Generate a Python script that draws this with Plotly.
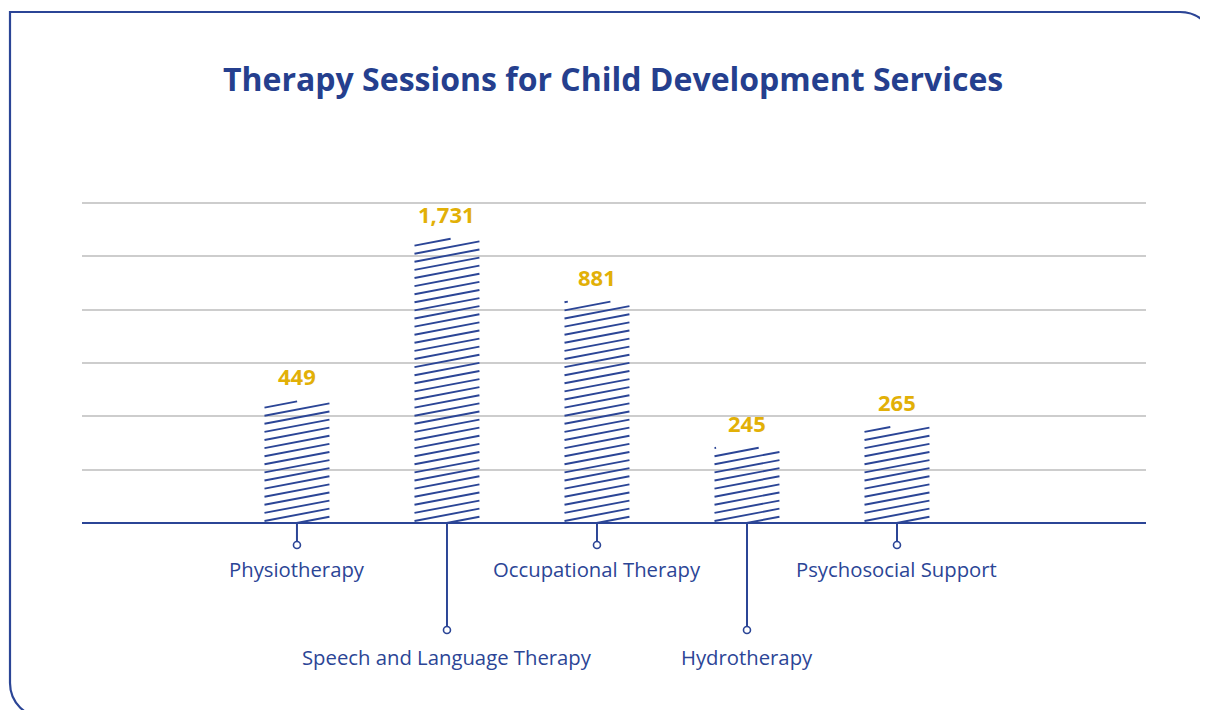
import plotly.graph_objects as go

# ---------------- data ----------------
categories = ["Physiotherapy", "Speech and Language Therapy", "Occupational Therapy",
              "Hydrotherapy", "Psychosocial Support"]
sessions = [449, 1731, 881, 245, 265]            # labels shown on bars
bar_heights = [2.28, 5.33, 4.15, 1.41, 1.80]     # plotted heights (grid units)
label_row = [0, 1, 0, 1, 0]                      # 0 = short leader, 1 = long leader
grid_ticks = [1, 2, 3, 4, 5, 6]

# ---------------- style ----------------
BLUE = "#2b4596"
TITLE_BLUE = "#253f8e"
GOLD = "#e2b007"
GRID = "#cdcdcd"
W, H = 1208, 710
OFF = 8                      # page body margin
L, R, T, B = 82 - OFF, W - (1146 - OFF), 198 - OFF, H - (704 - OFF)
PLOT_W = W - L - R
PLOT_H = H - T - B
XMIN, XMAX = -1.433, 5.66
PX_X = PLOT_W / (XMAX - XMIN)
PX_Y = 53.333
BASE_PX = 523 - OFF
YMAX = (BASE_PX - T) / PX_Y
YMIN = -((H - B) - BASE_PX) / PX_Y
BAR_W = 0.433

x_pos = list(range(len(categories)))

fig = go.Figure()

# invisible bar bodies
fig.add_trace(go.Bar(x=x_pos, y=bar_heights, width=BAR_W,
                     marker=dict(color="rgba(255,255,255,0)", line=dict(width=0)),
                     hoverinfo="skip", showlegend=False))

# hatch lines computed from the bar values
slope = 0.19     # rise per px
gap = 8.1        # vertical px spacing
hx, hy = [], []
for xc, h in zip(x_pos, bar_heights):
    Wpx = BAR_W * PX_X
    Hpx = h * PX_Y
    x0 = xc - BAR_W / 2
    k0 = int(-slope * Wpx / gap) - 1
    k1 = int(Hpx / gap) + 2
    for k in range(k0, k1):
        c = k * gap + 2
        u_a = max(0.0, (0 - c) / slope)
        u_b = min(Wpx, (Hpx - c) / slope)
        if u_b <= u_a:
            continue
        hx += [x0 + u_a / PX_X, x0 + u_b / PX_X, None]
        hy += [(slope * u_a + c) / PX_Y, (slope * u_b + c) / PX_Y, None]
fig.add_trace(go.Scatter(x=hx, y=hy, mode="lines", line=dict(color=BLUE, width=1.9),
                         hoverinfo="skip", showlegend=False))

# leader lines and circles
leader_end = [-22 / PX_Y, -107 / PX_Y]
label_y = [-(569 - 523) / PX_Y, -(657 - 523) / PX_Y]
lx, ly, cx, cy = [], [], [], []
for xc, r in zip(x_pos, label_row):
    lx += [xc, xc, None]
    ly += [0, leader_end[r], None]
    cx.append(xc)
    cy.append(leader_end[r])
fig.add_trace(go.Scatter(x=lx, y=ly, mode="lines", line=dict(color=BLUE, width=2),
                         hoverinfo="skip", showlegend=False))
fig.add_trace(go.Scatter(x=cx, y=cy, mode="markers",
                         marker=dict(size=7, color="white", line=dict(color=BLUE, width=1.6)),
                         hoverinfo="skip", showlegend=False))

annotations = []
for xc, r, name in zip(x_pos, label_row, categories):
    annotations.append(dict(x=xc, y=label_y[r], xref="x", yref="y", text=name,
                            showarrow=False, xanchor="center", yanchor="middle",
                            font=dict(family="Open Sans", size=20.3, color=BLUE)))
for xc, h, v in zip(x_pos, bar_heights, sessions):
    annotations.append(dict(x=xc, y=h, xref="x", yref="y", text=f"{v:,}",
                            showarrow=False, xanchor="center", yanchor="bottom", yshift=8,
                            font=dict(family="Open Sans", size=22, color=GOLD, weight="bold")))


def P(px, py):
    """screen px -> paper coords"""
    return (px - OFF - L) / PLOT_W, ((H - B) - (py - OFF)) / PLOT_H


tx, ty = P(613, 78)
annotations.append(dict(x=tx, y=ty, xref="paper", yref="paper",
                        text="<b>Therapy Sessions for Child Development Services</b>",
                        showarrow=False, xanchor="center", yanchor="middle",
                        font=dict(family="Open Sans", size=32, color=TITLE_BLUE)))


def pt(px, py):
    a, b = P(px, py)
    return f"{a:.5f},{b:.5f}"


rr = 35
kk = 0.5523 * rr
x1, y1, x2, y2 = 10, 12, 1215, 718
path = (f"M{pt(x1, y1)} L{pt(x2 - rr, y1)} "
        f"C{pt(x2 - rr + kk, y1)} {pt(x2, y1 + rr - kk)} {pt(x2, y1 + rr)} "
        f"L{pt(x2, y2)} L{pt(x1 + rr, y2)} "
        f"C{pt(x1 + rr - kk, y2)} {pt(x1, y2 - rr + kk)} {pt(x1, y2 - rr)} Z")
shapes = [dict(type="path", xref="paper", yref="paper", path=path,
               line=dict(color=BLUE, width=2.2), fillcolor="rgba(0,0,0,0)", layer="above")]

fig.update_layout(
    width=W, height=H,
    margin=dict(l=L, r=R, t=T, b=B),
    paper_bgcolor="white", plot_bgcolor="white",
    showlegend=False,
    xaxis=dict(range=[XMIN, XMAX], showgrid=False, zeroline=False, showticklabels=False,
               ticks="", showline=False, fixedrange=True),
    yaxis=dict(range=[YMIN, YMAX], tickvals=grid_ticks, showgrid=True, gridcolor=GRID,
               gridwidth=1.5, showticklabels=False, ticks="", zeroline=True,
               zerolinecolor=BLUE, zerolinewidth=2.2, showline=False, fixedrange=True),
    annotations=annotations,
    shapes=shapes,
)

fig.write_html("out.html")
